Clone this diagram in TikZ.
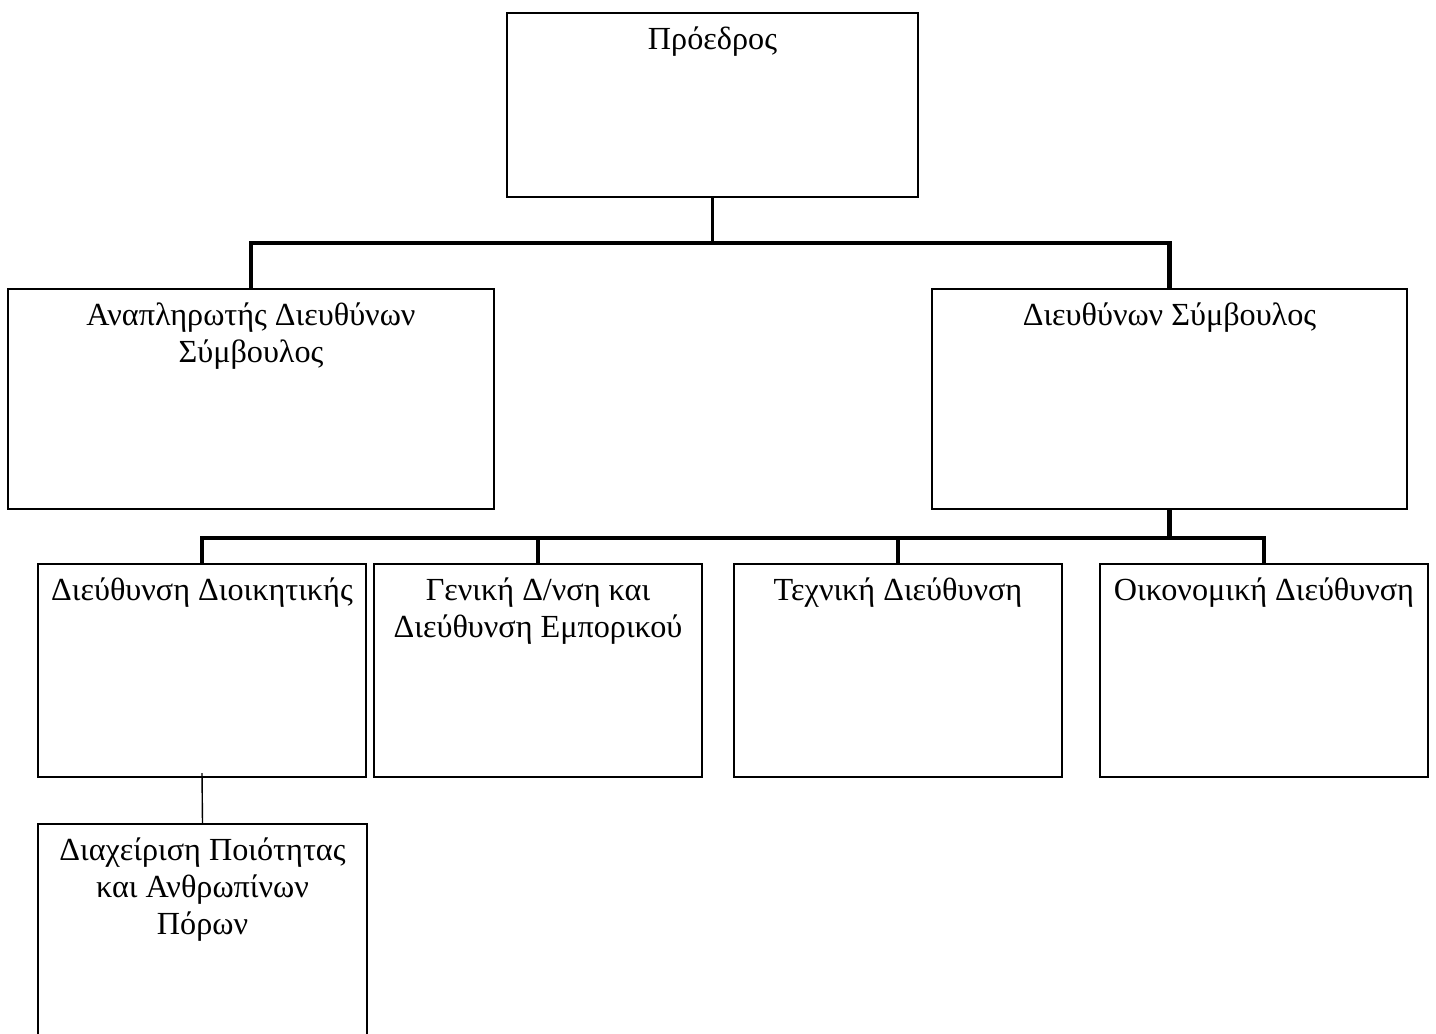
\documentclass[tikz,border=0pt]{standalone}
\usepackage{fontspec}
\setmainfont{Liberation Serif}
\begin{document}
\begin{tikzpicture}[x=0.5pt,y=-0.5pt,
  box/.style={draw, line width=1pt, inner sep=0pt},
  txt/.style={anchor=north, align=center, inner sep=0pt,
    font=\fontsize{16.1pt}{18.5pt}\selectfont},
  thickline/.style={line width=2.2pt},
  midline/.style={line width=1.6pt},
  thinline/.style={line width=0.7pt}]
\useasboundingbox (0,0) rectangle (1436,1034);
\clip (0,0) rectangle (1436,1034);

% boxes
\node[box, minimum width=205.5pt, minimum height=92pt] (top) at (712.5,105) {};
\node[box, minimum width=243pt, minimum height=110pt] (L) at (251,399) {};
\node[box, minimum width=237.5pt, minimum height=110pt] (R) at (1169.5,399) {};
\node[box, minimum width=164pt, minimum height=106.5pt] (b1) at (202,670.5) {};
\node[box, minimum width=164pt, minimum height=106.5pt] (b2) at (538,670.5) {};
\node[box, minimum width=164pt, minimum height=106.5pt] (b3) at (898,670.5) {};
\node[box, minimum width=164pt, minimum height=106.5pt] (b4) at (1264,670.5) {};
\node[box, minimum width=164.5pt, minimum height=110pt] (b5) at (202.5,934) {};

% texts
\node[txt] (ttop) at (712.5,23) {\strut Πρόεδρος};
\node[txt] (tL) at (251,299) {\strut Αναπληρωτής Διευθύνων\\Σύμβουλος};
\node[txt] (tR) at (1169.5,299) {\strut Διευθύνων Σύμβουλος};
\node[txt] (tb1) at (202,574) {\strut Διεύθυνση Διοικητικής};
\node[txt] (tb2) at (538,574) {\strut Γενική Δ/νση και\\Διεύθυνση Εμπορικού};
\node[txt] (tb3) at (898,574) {\strut Τεχνική Διεύθυνση};
\node[txt] (tb4) at (1264,574) {\strut Οικονομική Διεύθυνση};
\node[txt] (tb5) at (202.5,834) {\strut Διαχείριση Ποιότητας\\και Ανθρωπίνων\\Πόρων};

% connectors
\coordinate (bus1) at (712.5,243);
\coordinate (bus2) at (1169.5,538);
\draw[midline] (top.south) -- (bus1);
\draw[thickline] (bus1) -| (L.north);
\draw[thickline] (bus1) -| (R.north);
\draw[thickline] (R.south) -- (bus2);
\draw[thickline] (bus2) -| (b2.north);
\draw[thickline] (bus2) -| (b3.north);
\draw[midline] (b2.north |- bus2) -| (b1.north);
\draw[midline] (bus2) -| (b4.north);
\draw[thinline] ([yshift=2.5pt]b1.south) -- (b5.north);
\end{tikzpicture}
\end{document}
